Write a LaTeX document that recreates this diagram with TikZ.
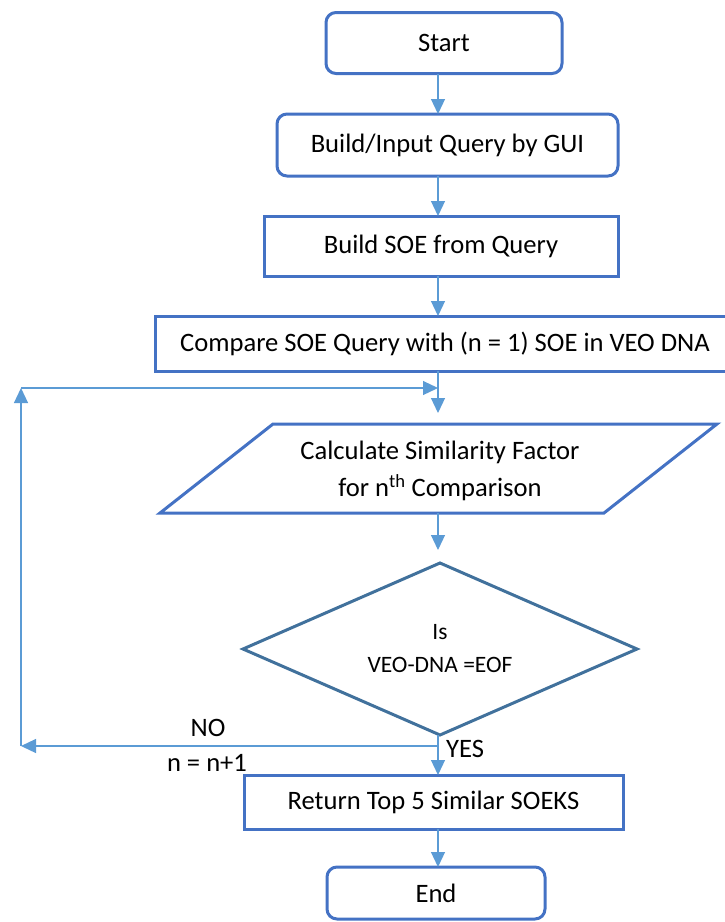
\documentclass[tikz,border=0pt]{standalone}
\usepackage{fontspec}
\setmainfont{Carlito}
\usetikzlibrary{arrows.meta,shapes.geometric}
\definecolor{boxblue}{HTML}{4472C4}
\definecolor{dmblue}{HTML}{41719C}
\definecolor{arrblue}{HTML}{5B9BD5}
\tikzset{
  rbox/.style={draw=boxblue, line width=3pt, rounded corners=10pt, outer sep=0pt, inner sep=0pt, font=\fontsize{26.6}{31}\selectfont},
  pbox/.style={draw=boxblue, line width=3pt, outer sep=0pt, inner sep=0pt, font=\fontsize{26.6}{31}\selectfont},
  shapeline/.style={draw=boxblue, line width=3pt, line join=miter},
  decline/.style={draw=dmblue, line width=3pt, line join=miter},
  arr/.style={draw=arrblue, line width=1.2pt, -{Triangle[length=15pt,width=14pt]}},
  lbl/.style={font=\fontsize{26.6}{31}\selectfont, inner sep=0pt}
}
\begin{document}
\begin{tikzpicture}[x=1pt,y=-1pt]
\useasboundingbox (0,0) rectangle (725,922);
\clip (0,0) rectangle (725,922);
\coordinate (ax) at (438,0);

\node[rbox, minimum width=236pt, minimum height=61pt] (start) at (444,43) {Start};
\node[rbox, minimum width=341pt, minimum height=62pt] (gui) at (447.5,145) {Build/Input Query by GUI};
\node[pbox, minimum width=354pt, minimum height=60pt] (soe) at (441,246) {Build SOE from Query};
\node[pbox, minimum width=580pt, minimum height=55pt] (cmp) at (445,343.5) {Compare SOE Query with (n = 1) SOE in VEO DNA};

\draw[shapeline] (273,424) -- (717,424) -- (604,513) -- (160,513) -- cycle;
\node[lbl, align=center, font=\fontsize{26.6}{37}\selectfont] (calc) at (440,471) {Calculate Similarity Factor\\for n\textsuperscript{th} Comparison};
\coordinate (ptop) at (438,413);
\coordinate (pbot) at (438,513);

\draw[decline] (440,563) -- (637,649) -- (440,735) -- (243,649) -- cycle;
\node[lbl, align=center, font=\fontsize{23.5}{33}\selectfont] (dec) at (440,649) {Is\\VEO-DNA =EOF};
\coordinate (dtop) at (438,550);
\coordinate (dbot) at (438,735);

\node[pbox, minimum width=379pt, minimum height=54pt] (ret) at (433.5,802) {Return Top 5 Similar SOEKS};
\node[rbox, minimum width=218pt, minimum height=52pt] (end) at (436,893) {End};

\draw[arr] (start.south -| ax) -- (gui.north -| ax);
\draw[arr] (gui.south -| ax) -- (soe.north -| ax);
\draw[arr] (soe.south -| ax) -- (cmp.north -| ax);
\draw[arr] (cmp.south -| ax) -- (ptop);
\draw[arr] (pbot) -- (dtop);
\draw[arr] (dbot) -- (ret.north -| ax);
\draw[arr] (ret.south -| ax) -- (end.north -| ax);

\coordinate (nojoin) at (438,746);
\coordinate (lb) at (21,746);
\coordinate (lt) at (21,388);
\coordinate (loopend) at (438,388);
\draw[arr] (nojoin) -- (lb);
\draw[arr] (lb) -- (lt);
\draw[arr] (lt) -- (loopend);

\node[lbl] (no) at (208,728) {NO};
\node[lbl] (nn) at (207,763) {n = n+1};
\node[lbl, anchor=west] (yes) at (446,749) {YES};
\end{tikzpicture}
\end{document}
